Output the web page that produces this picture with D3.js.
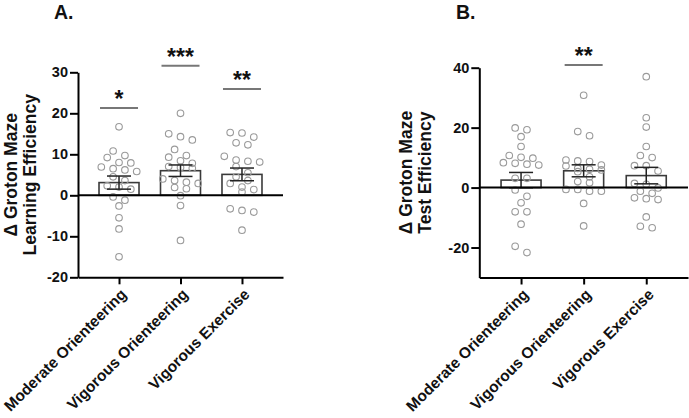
<!DOCTYPE html>
<html>
<head>
<meta charset="utf-8">
<script src="https://cdn.jsdelivr.net/npm/d3@7"></script>
<style>
  html, body { margin: 0; padding: 0; background: #fff; }
  svg { display: block; }
  text { font-family: "Liberation Sans", Arial, sans-serif; font-weight: bold; }
</style>
</head>
<body>
<script>
// ---------------- DATA ----------------
const categories = ["Moderate Orienteering", "Vigorous Orienteering", "Vigorous Exercise"];

// Panel A: Δ Groton Maze Learning Efficiency
const learnModerate = [16.7, 10.8, 9.7, 9.2, 8.0, 7.9, 6.9, 6.5, 6.2, 5.8, 4.5, 3.6, 2.3, 2.0, 1.5, -0.4, -1.2, -2.6, -5.5, -8.2, -15];
const learnVigOrient = [20.0, 15.0, 14.3, 13.5, 11.2, 9.7, 9.3, 8.4, 7.8, 7.0, 6.8, 6.6, 4.0, 3.6, 3.2, 2.9, 1.9, 1.6, -0.1, -2.5, -11];
const learnVigExercise = [15.3, 15.2, 14.2, 12.8, 12.3, 9.5, 8.6, 8.3, 8.1, 7.0, 5.5, 4.5, 3.6, 2.9, 2.0, 1.4, 0.8, -3.3, -3.7, -4.1, -8.5];
const learnMeans = [3.1, 6.0, 5.1];
const learnSEM = [1.6, 1.4, 1.55];
const learnStars = ["*", "***", "**"];
const learnStarLevel = [21.3, 31.6, 25.9];
const learnTicks = [-20, -10, 0, 10, 20, 30];

// Panel B: Δ Groton Maze Test Efficiency
const testModerate = [19.9, 19.3, 17.0, 13.7, 10.7, 10.1, 9.8, 8.3, 8.1, 7.8, 7.5, 3.1, 3.1, -0.8, -2.9, -5.1, -8.1, -8.1, -12.2, -19.6, -21.7];
const testVigOrient = [30.8, 18.7, 17.3, 9.2, 8.9, 8.7, 7.5, 7.2, 6.4, 6.1, 5.9, 5.3, 3.6, 2.0, 1.6, -0.6, -0.6, -1.2, -1.2, -5.3, -12.8];
const testVigExercise = [37.0, 23.3, 20.2, 13.7, 10.7, 10.0, 7.3, 7.3, 5.5, 1.4, 1.1, -0.1, -1.2, -1.9, -3.4, -3.7, -4.0, -9.8, -12.9, -13.4];
const testMeans = [2.5, 5.6, 4.0];
const testSEM = [2.55, 2.0, 2.75];
const testStars = ["", "**", ""];
const testStarLevel = [null, 40.9, null];
const testTicks = [-20, 0, 20, 40];

// ---------------- DRAW ----------------
const W = 689, H = 418;
const svg = d3.select("body").append("svg").attr("width", W).attr("height", H);

function panel(opt) {
  const g = svg.append("g");
  const x = d3.scalePoint().domain(categories).range([opt.x0, opt.x1]).padding(0.667);
  const y = d3.scaleLinear().domain(opt.domain).range([opt.yBottom, opt.yTop]);
  const barW = 40, capW = 24, spacing = 11.8, bin = 6.5;

  // bars
  g.selectAll("rect.bar").data(categories).enter().append("rect")
    .attr("x", d => x(d) - barW / 2)
    .attr("width", barW)
    .attr("y", (d, i) => Math.min(y(opt.means[i]), y(0)))
    .attr("height", (d, i) => Math.abs(y(opt.means[i]) - y(0)))
    .attr("fill", "#fff").attr("stroke", "#3a3a3a").attr("stroke-width", 1.6);

  // scatter points (row-based swarm)
  opt.points.forEach((vals, ci) => {
    const sorted = vals.slice().sort((a, b) => b - a);
    const rows = [];
    sorted.forEach(v => {
      const r = rows[rows.length - 1];
      if (r && Math.abs(y(v) - y(r[0])) < bin && r.length < 4) r.push(v);
      else rows.push([v]);
    });
    const pts = [];
    rows.forEach(r => r.forEach((v, i) => pts.push({ v, off: (i - (r.length - 1) / 2) * spacing })));
    g.selectAll(null).data(pts).enter().append("circle")
      .attr("cx", d => x(categories[ci]) + d.off)
      .attr("cy", d => y(d.v))
      .attr("r", 3.3)
      .attr("fill", "none").attr("stroke", "#9a9a9a").attr("stroke-width", 1.1);
  });

  // error bars
  categories.forEach((c, i) => {
    const cx = x(c), hi = y(opt.means[i] + opt.sem[i]), lo = y(opt.means[i] - opt.sem[i]);
    g.append("line").attr("x1", cx).attr("x2", cx).attr("y1", hi).attr("y2", lo)
      .attr("stroke", "#222").attr("stroke-width", 1.5);
    [hi, lo].forEach(yy => g.append("line").attr("x1", cx - capW / 2).attr("x2", cx + capW / 2)
      .attr("y1", yy).attr("y2", yy).attr("stroke", "#222").attr("stroke-width", 1.5));
  });

  // zero line
  g.append("line").attr("x1", opt.x0).attr("x2", opt.x1).attr("y1", y(0)).attr("y2", y(0))
    .attr("stroke", "#000").attr("stroke-width", 2);

  // significance
  categories.forEach((c, i) => {
    if (!opt.stars[i]) return;
    const ly = y(opt.starLevel[i]);
    g.append("line").attr("x1", x(c) - 19).attr("x2", x(c) + 19).attr("y1", ly).attr("y2", ly)
      .attr("stroke", "#777").attr("stroke-width", 2);
    g.append("text").attr("x", x(c)).attr("y", ly - 1).attr("text-anchor", "middle")
      .attr("font-size", 23).attr("fill", "#111").text(opt.stars[i]);
  });

  // y axis
  const ya = g.append("g").attr("transform", `translate(${opt.x0},0)`)
    .call(d3.axisLeft(y).tickValues(opt.ticks).tickFormat(d => String(d))
      .tickSize(8).tickSizeOuter(0).tickPadding(2));
  ya.select(".domain").attr("stroke", "#000").attr("stroke-width", 2);
  ya.selectAll(".tick line").attr("stroke", "#000").attr("stroke-width", 2);
  ya.selectAll(".tick text").attr("font-size", 14.5).attr("fill", "#111")
    .attr("font-family", "Liberation Sans, Arial, sans-serif").attr("font-weight", "bold");

  // x axis
  const xa = g.append("g").attr("transform", `translate(0,${opt.yBottom})`)
    .call(d3.axisBottom(x).tickSize(7).tickSizeOuter(0));
  xa.select(".domain").attr("stroke", "#000").attr("stroke-width", 2);
  xa.selectAll(".tick line").attr("stroke", "#000").attr("stroke-width", 2);
  xa.selectAll(".tick text").attr("font-size", 15.5).attr("fill", "#111")
    .attr("font-family", "Liberation Sans, Arial, sans-serif").attr("font-weight", "bold")
    .attr("text-anchor", "end").attr("dy", null).attr("y", 0)
    .attr("transform", "translate(8,18) rotate(-45)");

  // y title
  const cy = (opt.yTop + opt.yBottom) / 2;
  opt.ytitle.forEach((t, k) => {
    g.append("text").attr("transform", `translate(${opt.titleX[k]},${cy}) rotate(-90)`)
      .attr("text-anchor", "middle").attr("font-size", 17.5).attr("fill", "#111").text(t);
  });

  // panel label
  g.append("text").attr("x", opt.labelX).attr("y", 18.5).attr("font-size", 19.5).attr("fill", "#111").text(opt.label);
}

panel({
  x0: 78, x1: 283, yTop: 72.3, yBottom: 277.3, domain: [-20, 30], ticks: learnTicks,
  points: [learnModerate, learnVigOrient, learnVigExercise], means: learnMeans, sem: learnSEM,
  stars: learnStars, starLevel: learnStarLevel,
  ytitle: ["Δ Groton Maze", "Learning Efficiency"], titleX: [17, 36], label: "A.", labelX: 54
});
panel({
  x0: 479.3, x1: 688, yTop: 67.7, yBottom: 277.5, domain: [-30, 40], ticks: testTicks,
  points: [testModerate, testVigOrient, testVigExercise], means: testMeans, sem: testSEM,
  stars: testStars, starLevel: testStarLevel,
  ytitle: ["Δ Groton Maze", "Test Efficiency"], titleX: [412, 431], label: "B.", labelX: 456
});
</script>
</body>
</html>
